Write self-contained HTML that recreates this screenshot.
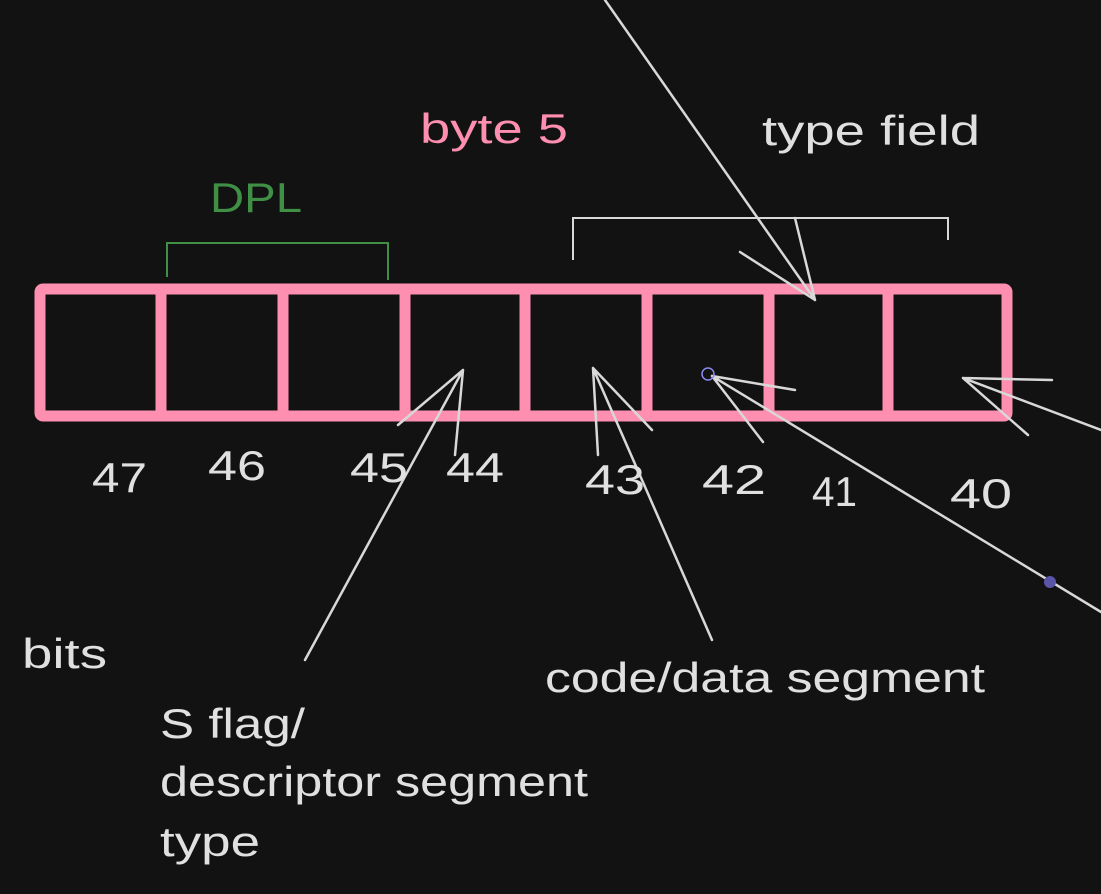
<!DOCTYPE html>
<html><head><meta charset="utf-8"><style>
html,body{margin:0;padding:0;background:#121212;}
svg{display:block}
text{font-family:"Liberation Sans",sans-serif;}
</style></head><body>
<svg width="1101" height="894" viewBox="0 0 1101 894" xmlns="http://www.w3.org/2000/svg">
<rect width="1101" height="894" fill="#121212"/>
<g fill="none" stroke="#ff8fb1" stroke-width="11" stroke-linejoin="round">
<rect x="40" y="289" width="967" height="127" rx="3"/>
<line x1="161" y1="289" x2="161" y2="416"/>
<line x1="283" y1="289" x2="283" y2="416"/>
<line x1="405" y1="289" x2="405" y2="416"/>
<line x1="525" y1="289" x2="525" y2="416"/>
<line x1="647" y1="289" x2="647" y2="416"/>
<line x1="769" y1="289" x2="769" y2="416"/>
<line x1="888" y1="289" x2="888" y2="416"/>
</g>
<polyline points="167,277 167,243 388,243 388,280" fill="none" stroke="#3f8f45" stroke-width="2"/>
<polyline points="573,260 573,218 948,218 948,240" fill="none" stroke="#d8d8d8" stroke-width="2"/>
<g fill="none" stroke="#d8d8d8" stroke-width="2.5" stroke-linecap="round">
<path d="M605,0 L815,300 M740,252 L815,300 M795,218 L815,300"/>
<path d="M305,660 L463,370 M398,425 L463,370 M455,455 L463,370"/>
<path d="M712,640 L593,368 M598,455 L593,368 M652,430 L593,368"/>
<path d="M1101,430 L963,378 M1052,380 L963,378 M1028,435 L963,378"/>
<path d="M1101,612 L712,376 M795,390 L712,376 M763,442 L712,376"/>
</g>
<circle cx="708" cy="374" r="6" fill="none" stroke="#8a8af0" stroke-width="1.5"/>
<circle cx="1050" cy="582" r="6" fill="#5a55a8"/>
<g font-size="42" fill="#e0e0e0" lengthAdjust="spacingAndGlyphs">
<text x="420" y="143" fill="#ff8fb1" textLength="148" lengthAdjust="spacingAndGlyphs">byte 5</text>
<text x="762" y="145" textLength="218" lengthAdjust="spacingAndGlyphs">type field</text>
<text x="210" y="212" fill="#3f8f45" textLength="92" lengthAdjust="spacingAndGlyphs">DPL</text>
<text x="92" y="492" textLength="55" lengthAdjust="spacingAndGlyphs">47</text>
<text x="208" y="480" textLength="58" lengthAdjust="spacingAndGlyphs">46</text>
<text x="350" y="482" textLength="58" lengthAdjust="spacingAndGlyphs">45</text>
<text x="446" y="482" textLength="58" lengthAdjust="spacingAndGlyphs">44</text>
<text x="585" y="494" textLength="60" lengthAdjust="spacingAndGlyphs">43</text>
<text x="702" y="494" textLength="64" lengthAdjust="spacingAndGlyphs">42</text>
<text x="812" y="506" textLength="45" lengthAdjust="spacingAndGlyphs">41</text>
<text x="950" y="508" textLength="62" lengthAdjust="spacingAndGlyphs">40</text>
<text x="22" y="668" textLength="85" lengthAdjust="spacingAndGlyphs">bits</text>
<text x="545" y="692" textLength="440" lengthAdjust="spacingAndGlyphs">code/data segment</text>
<text x="160" y="738" textLength="145" lengthAdjust="spacingAndGlyphs">S flag/</text>
<text x="160" y="796" textLength="428" lengthAdjust="spacingAndGlyphs">descriptor segment</text>
<text x="160" y="856" textLength="100" lengthAdjust="spacingAndGlyphs">type</text>
</g>
</svg>
</body></html>
